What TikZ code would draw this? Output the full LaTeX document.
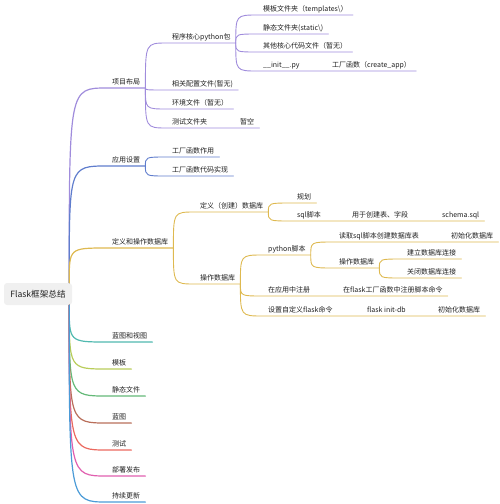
\documentclass[tikz,border=0pt]{standalone}
\usepackage{fontspec}
\setmainfont{Noto Sans CJK SC}

\definecolor{cxm}{RGB}{160,140,220}
\definecolor{cyy}{RGB}{95,125,205}
\definecolor{csj}{RGB}{222,185,80}
\definecolor{clt}{RGB}{80,185,175}
\definecolor{cmb}{RGB}{185,205,90}
\definecolor{cjt}{RGB}{100,185,120}
\definecolor{clu}{RGB}{185,110,90}
\definecolor{ccs}{RGB}{235,105,95}
\definecolor{cbs}{RGB}{225,95,175}
\definecolor{cgx}{RGB}{75,155,215}

\tikzset{
  topic/.style={anchor=south west,inner xsep=5pt,inner ysep=2pt,text height=5.5pt,
    text depth=1.2pt,font=\fontsize{7}{8}\selectfont,text=black!88},
  rootbox/.style={fill=black!6,rounded corners=3pt,minimum width=68pt,minimum height=22pt,
    font=\fontsize{8.6}{10}\selectfont,text=black!88},
  limb/.style={to path={.. controls (\tikztostart |- \tikztotarget) .. (\tikztotarget)}},
  main/.style={line width=1.2pt,line cap=round},
  sub/.style={line width=0.9pt,line cap=round}
}

\begin{document}
\begin{tikzpicture}[x=1pt,y=-1pt]
  \useasboundingbox (0,0) rectangle (500,504);

  % the central topic
  \node[rootbox] (root) at (38,294) {Flask框架总结};
  \coordinate (rup) at ([xshift=-3pt]root.north east);
  \coordinate (rdn) at ([xshift=-3pt]root.south east);

  % main topics
  \node[topic] (xmbj) at (107,88) {项目布局};
  \node[topic] (yysz) at (107,166) {应用设置};
  \node[topic] (dyhc) at (107,248) {定义和操作数据库};
  \node[topic] (ltst) at (107,342) {蓝图和视图};
  \node[topic] (mb) at (107,369) {模板};
  \node[topic] (jtwj) at (107,396) {静态文件};
  \node[topic] (lt) at (107,423) {蓝图};
  \node[topic] (cs) at (107,450) {测试};
  \node[topic] (bsfb) at (107,476) {部署发布};
  \node[topic] (cxgx) at (107,502) {持续更新};

  % project layout
  \node[topic] (cxhx) at (167,43) {程序核心python包};
  \node[topic] (xgpz) at (167,90) {相关配置文件(暂无)};
  \node[topic] (hjwj) at (167,109) {环境文件（暂无）};
  \node[topic] (cswj) at (167,128) {测试文件夹};
  \node[topic] (zk) at (235,128) {暂空};
  \node[topic] (mbwj) at (258,15) {模板文件夹（templates\textbackslash）};
  \node[topic] (jtwjj) at (258,34) {静态文件夹(static\textbackslash)};
  \node[topic] (qthx) at (258,52) {其他核心代码文件（暂无）};
  \node[topic] (init) at (258,71) {\_\_init\_\_.py};
  \node[topic] (gchs) at (327,71) {工厂函数（create\_app）};

  % app settings
  \node[topic] (gczy) at (167,157) {工厂函数作用};
  \node[topic] (gcsx) at (167,176) {工厂函数代码实现};

  % database
  \node[topic] (dycj) at (195,212) {定义（创建）数据库};
  \node[topic] (czsjk) at (195,284) {操作数据库};
  \node[topic] (gh) at (292,203) {规划};
  \node[topic] (sqljb) at (292,221) {sql脚本};
  \node[topic] (yycj) at (347,221) {用于创建表、字段};
  \node[topic] (schema) at (437,221) {schema.sql};
  \node[topic] (pyjb) at (263,255) {python脚本};
  \node[topic] (zczc) at (263,296) {在应用中注册};
  \node[topic] (zcml) at (338,296) {在flask工厂函数中注册脚本命令};
  \node[topic] (zdy) at (263,316) {设置自定义flask命令};
  \node[topic] (initdb) at (362,316) {flask init-db};
  \node[topic] (csh2) at (433,316) {初始化数据库};
  \node[topic] (dqsql) at (334,242) {读取sql脚本创建数据库表};
  \node[topic] (csh1) at (446,242) {初始化数据库};
  \node[topic] (czsjk2) at (334,268) {操作数据库};
  \node[topic] (jlsj) at (402,259) {建立数据库连接};
  \node[topic] (gbsj) at (402,278) {关闭数据库连接};

  % branches from the centre
  \draw[main,cxm] (rup) to[limb] (xmbj.south west) -- (xmbj.south east);
  \draw[main,cyy] (rup) to[limb] (yysz.south west) -- (yysz.south east);
  \draw[main,csj] (rup) to[limb] (dyhc.south west) -- (dyhc.south east);
  \foreach \n/\c in {ltst/clt, mb/cmb, jtwj/cjt, lt/clu, cs/ccs, bsfb/cbs, cxgx/cgx}
    \draw[main,\c] (rdn) to[limb] (\n.south west) -- (\n.south east);

  % purple sub branches
  \foreach \n in {cxhx, xgpz, hjwj}
    \draw[sub,cxm] (xmbj.south east) to[limb] (\n.south west) -- (\n.south east);
  \draw[sub,cxm] (xmbj.south east) to[limb] (cswj.south west) -- (zk.south east);
  \foreach \n in {mbwj, jtwjj, qthx}
    \draw[sub,cxm] (cxhx.south east) to[limb] (\n.south west) -- (\n.south east);
  \draw[sub,cxm] (cxhx.south east) to[limb] (init.south west) -- (gchs.south east);

  % blue sub branches
  \foreach \n in {gczy, gcsx}
    \draw[sub,cyy] (yysz.south east) to[limb] (\n.south west) -- (\n.south east);

  % gold sub branches
  \foreach \n in {dycj, czsjk}
    \draw[sub,csj] (dyhc.south east) to[limb] (\n.south west) -- (\n.south east);
  \draw[sub,csj] (dycj.south east) to[limb] (gh.south west) -- (gh.south east);
  \draw[sub,csj] (dycj.south east) to[limb] (sqljb.south west) -- (schema.south east);
  \draw[sub,csj] (czsjk.south east) to[limb] (pyjb.south west) -- (pyjb.south east);
  \draw[sub,csj] (czsjk.south east) to[limb] (zczc.south west) -- (zcml.south east);
  \draw[sub,csj] (czsjk.south east) to[limb] (zdy.south west) -- (csh2.south east);
  \draw[sub,csj] (pyjb.south east) to[limb] (dqsql.south west) -- (csh1.south east);
  \draw[sub,csj] (pyjb.south east) to[limb] (czsjk2.south west) -- (czsjk2.south east);
  \foreach \n in {jlsj, gbsj}
    \draw[sub,csj] (czsjk2.south east) to[limb] (\n.south west) -- (\n.south east);
\end{tikzpicture}
\end{document}
